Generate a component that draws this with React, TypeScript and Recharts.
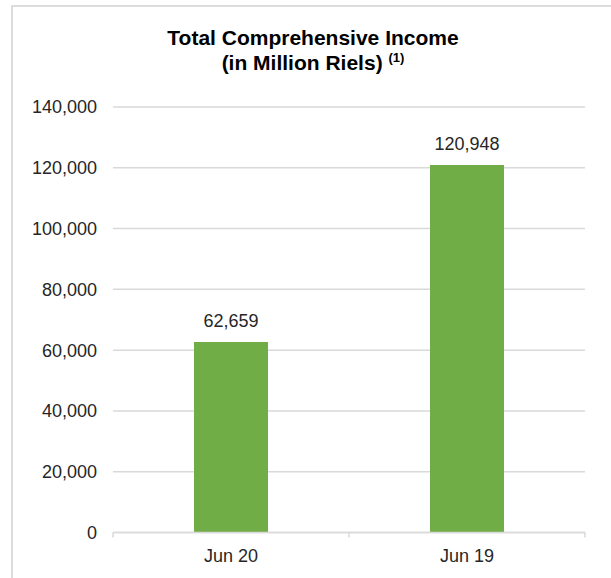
import React from 'react';
import { BarChart, Bar, XAxis, YAxis, CartesianGrid, LabelList } from 'recharts';

const categories = ['Jun 20', 'Jun 19'];
const values = [62659, 120948];
const yTicks = [0, 20000, 40000, 60000, 80000, 100000, 120000, 140000];
const titleLine1 = 'Total Comprehensive Income';
const titleLine2 = '(in Million Riels)';
const titleNote = '(1)';

const data = categories.map((c, i) => ({ pos: i + 0.5, name: c, value: values[i] }));
const xTicks = [0, 0.5, 1, 1.5, 2];

const FONT = '"Liberation Sans", Arial, sans-serif';
const fmt = (v: number) => v.toLocaleString('en-US');

const XTick = (props: any) => {
  const { x, y, payload } = props;
  const v = payload.value as number;
  if (Number.isInteger(v)) {
    return <line x1={x} y1={y} x2={x} y2={y + 5} stroke="#d9d9d9" strokeWidth={1.5} />;
  }
  const idx = Math.floor(v);
  return (
    <text x={x} y={y + 29} textAnchor="middle" fontSize={18} fill="#262626" fontFamily={FONT}>
      {categories[idx]}
    </text>
  );
};

export default function App() {
  return (
    <div style={{ position: 'absolute', left: 0, top: 0, width: 611, height: 578, background: '#fff', overflow: 'hidden' }}>
      <div
        style={{
          position: 'absolute',
          left: 11,
          top: 5,
          width: 640,
          height: 600,
          borderLeft: '2px solid #dcdcdc',
          borderTop: '2px solid #dcdcdc',
        }}
      />
      <div
        style={{
          position: 'absolute',
          left: 13,
          top: 25,
          width: 600,
          textAlign: 'center',
          fontFamily: FONT,
          fontWeight: 'bold',
          fontSize: 21,
          lineHeight: '25px',
          color: '#000',
        }}
      >
        <div>{titleLine1}</div>
        <div>
          {titleLine2}{' '}
          <span style={{ fontSize: 13, position: 'relative', top: -8 }}>{titleNote}</span>
        </div>
      </div>
      <div style={{ position: 'absolute', left: 0, top: 0 }}>
        <BarChart
          width={611}
          height={578}
          data={data}
          margin={{ top: 107, right: 26, bottom: 0, left: 0 }}
        >
          <CartesianGrid vertical={false} stroke="#d9d9d9" strokeWidth={1.5} />
          <XAxis
            dataKey="pos"
            type="number"
            domain={[0, 2]}
            ticks={xTicks}
            interval={0}
            allowDecimals
            height={45.5}
            axisLine={{ stroke: '#d9d9d9', strokeWidth: 1.5 }}
            tickLine={false}
            tickSize={0}
            tickMargin={0}
            tick={<XTick />}
          />
          <YAxis
            domain={[0, 140000]}
            ticks={yTicks}
            interval={0}
            width={113}
            axisLine={false}
            tickLine={false}
            tickSize={0}
            tickMargin={16}
            tickFormatter={fmt}
            tick={{ fontSize: 18, fill: '#262626', fontFamily: FONT }}
          />
          <Bar dataKey="value" fill="#70AD47" barSize={74} isAnimationActive={false}>
            <LabelList
              dataKey="value"
              position="top"
              offset={15}
              formatter={(v: any) => fmt(Number(v))}
              style={{ fontSize: 18, fill: '#262626', fontFamily: FONT }}
            />
          </Bar>
        </BarChart>
      </div>
    </div>
  );
}
